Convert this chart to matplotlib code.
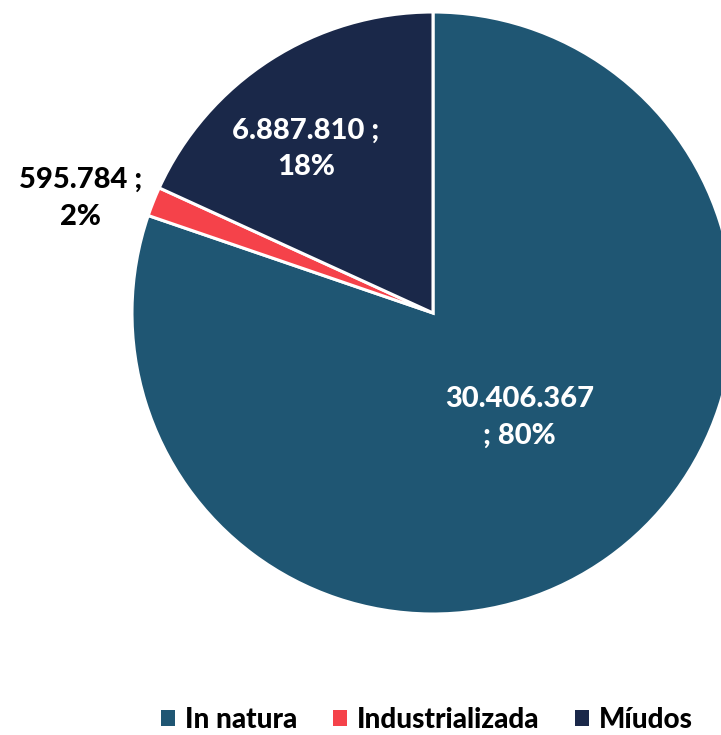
import numpy as np
import matplotlib.pyplot as plt
from matplotlib.patches import Patch

# data
categories = ["In natura", "Industrializada", "Míudos"]
values = [30406367, 595784, 6887810]
value_labels = ["30.406.367\n; 80%", "595.784 ;\n2%", "6.887.810 ;\n18%"]
colors = ["#1F5673", "#F5424A", "#1A2849"]

plt.rcParams["font.family"] = ["Lato", "DejaVu Sans"]

W, H = 721, 735
fig = plt.figure(figsize=(W / 100, H / 100), dpi=100)
ax = fig.add_axes([0, 0, 1, 1])

cx, cy, r = 433, H - 313, 301
wedges, _ = ax.pie(
    values,
    colors=colors,
    startangle=90,
    counterclock=False,
    center=(cx, cy),
    radius=r,
    frame=True,
    wedgeprops=dict(edgecolor="white", linewidth=2.2),
)
ax.set_xlim(0, W)
ax.set_ylim(0, H)
ax.set_aspect("equal")
ax.axis("off")

# label placement (distance as fraction of radius, angle offset)
label_pos = [(0.45, 4), (1.23, 3.7), (0.69, 5)]
text_colors = ["white", "black", "white"]
for w, lab, (d, off), tc in zip(wedges, value_labels, label_pos, text_colors):
    ang = np.deg2rad((w.theta1 + w.theta2) / 2 + off)
    x = cx + d * r * np.cos(ang)
    y = cy + d * r * np.sin(ang)
    ax.text(x, y, lab, ha="center", va="center", color=tc,
            fontsize=21, fontweight="black", linespacing=1.5)

handles = [Patch(facecolor=c) for c in colors]
fig.legend(
    handles, categories,
    loc="center left", bbox_to_anchor=(136 / W, 1 - 720 / H),
    ncol=3, frameon=False,
    prop=dict(size=20, weight="black"),
    handlelength=0.5, handleheight=0.5, handletextpad=0.35,
    columnspacing=1.3,
)

plt.savefig("out.png", dpi=100)
plt.close()
